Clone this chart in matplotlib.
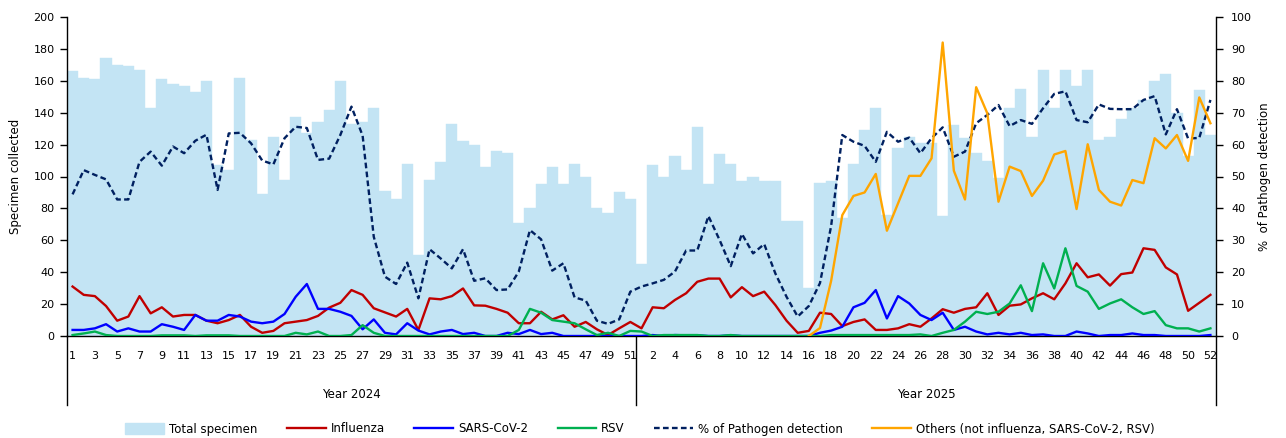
import numpy as np
import matplotlib
matplotlib.use("Agg")
import matplotlib.pyplot as plt
from matplotlib.patches import Patch
from matplotlib.lines import Line2D

plt.rcParams['font.family'] = ['DejaVu Sans']

weeks_2024 = list(range(1, 52))
weeks_2025 = list(range(1, 53))

total_2024 = [166, 162, 161, 174, 170, 169, 167, 143, 161, 158,
              157, 153, 160, 107, 104, 162, 123, 89, 125, 98,
              137, 127, 134, 142, 160, 133, 134, 143, 91, 86,
              108, 51, 98, 109, 133, 122, 120, 106, 116, 115,
              71, 80, 95, 106, 95, 108, 100, 80, 77, 90, 86]
total_2025 = [45, 107, 100, 113, 104, 131, 95, 114, 108, 97,
              100, 97, 97, 72, 72, 30, 96, 97, 74, 108,
              129, 143, 76, 118, 125, 121, 121, 75, 132, 124,
              115, 110, 99, 143, 155, 125, 167, 143, 167, 157,
              167, 123, 125, 136, 143, 148, 160, 164, 140, 113, 154, 126]

pct_2024 = [44.4, 52, 50.5, 49.1, 42.8, 42.8, 54.6, 57.8, 53.4, 59.4,
            57.3, 61.2, 63.1, 45.8, 63.5, 63.7, 60.4, 55, 53.8, 62,
            65.6, 65.2, 55.2, 55.6, 63, 71.9, 62.8, 31.1, 18.6, 16.3,
            23, 11.8, 27.2, 24.3, 21.2, 27.2, 17.3, 18.1, 14.4, 14.6,
            20.2, 33.2, 30.3, 20.5, 22.8, 12.1, 11.1, 4.8, 3.8, 5.2, 13.9]
pct_2025 = [15.5, 16.5, 17.6, 20.2, 26.8, 26.8, 37.6, 30.1, 21.9, 32,
            25.9, 28.8, 19.6, 12.3, 6.1, 9.4, 16.6, 34.5, 63, 60.9,
            59.6, 54.6, 64, 60.9, 62.2, 57.3, 62, 65.4, 56.2, 57.8,
            66.7, 69.3, 72.4, 65.8, 67.7, 66.5, 71.4, 75.9, 76.7, 67.7,
            67, 72.6, 71.2, 71.1, 71.1, 74, 75.2, 63.2, 71.1, 61.9, 62.1, 74]

flu_2024 = [15.5, 12.9, 12.5, 9.4, 4.8, 6.1, 12.5, 7.1, 9, 6.1,
            6.6, 6.6, 4.8, 4, 5, 6.6, 2.9, 1, 1.6, 4,
            4.5, 5, 6.3, 8.9, 10.4, 14.4, 12.9, 8.7, 7.4, 6.1,
            8.5, 1.9, 11.8, 11.5, 12.5, 14.9, 9.6, 9.5, 8.5, 7.3,
            4, 4, 7.6, 5.2, 6.5, 2.9, 4.4, 2.1, 0.3, 2.4, 4.4]
flu_2025 = [2.4, 9, 8.7, 11.3, 13.4, 17, 18, 18, 12.1, 15.3,
            12.5, 13.9, 9.7, 4.8, 1, 1.6, 7.3, 6.9, 3.1, 4.4,
            5.2, 1.9, 1.9, 2.4, 3.7, 2.9, 5.5, 8.4, 7.3, 8.5,
            9, 13.4, 6.6, 9.5, 9.9, 11.8, 13.4, 11.5, 16.5, 22.8,
            18.4, 19.3, 15.8, 19.4, 19.9, 27.5, 27, 21.5, 19.3, 7.9, 10.4, 12.9]

cov_2024 = [1.9, 1.9, 2.4, 3.7, 1.4, 2.4, 1.4, 1.4, 3.7, 2.9,
            1.9, 6.6, 4.8, 4.8, 6.6, 6.1, 4.5, 4, 4.5, 6.9,
            12.3, 16.3, 8.5, 8.5, 7.6, 6.3, 2.1, 5.2, 1, 0.5,
            4, 1.7, 0.5, 1.4, 1.9, 0.6, 1, 0, 0, 1,
            0.6, 1.9, 0.6, 1, 0, 0, 0, 0, 0, 0, 0]
cov_2025 = [0, 0.3, 0, 0.3, 0.2, 0.2, 0, 0, 0.2, 0,
            0, 0, 0, 0, 0, 0, 1, 1.7, 2.9, 9,
            10.4, 14.4, 5.5, 12.5, 10.2, 6.6, 5, 7.3, 1.9, 2.9,
            1.4, 0.5, 1, 0.5, 1, 0.3, 0.5, 0, 0, 1.4,
            0.8, 0, 0.3, 0.3, 0.8, 0.3, 0.3, 0, 0, 0, 0, 0.3]

rsv_2024 = [0.3, 0.8, 1.4, 0.3, 0, 0, 0, 0, 0.2, 0.2,
            0.2, 0, 0.2, 0.2, 0.2, 0, 0, 0, 0, 0,
            1, 0.5, 1.4, 0, 0, 0.3, 3.4, 1, 0, 0,
            0, 0, 0, 0, 0, 0, 0, 0, 0, 0,
            1.9, 8.5, 7.3, 5, 4.5, 4, 2.1, 0.3, 1, 0, 1.6]
rsv_2025 = [1.4, 0, 0.3, 0.3, 0.3, 0.3, 0, 0, 0.3, 0,
            0, 0, 0, 0, 0, 0, 0, 0.3, 0.3, 0.3,
            0.3, 0.3, 0.3, 0.3, 0.3, 0.5, 0, 1, 1.9, 4.5,
            7.6, 6.9, 7.6, 10.2, 15.9, 7.8, 22.8, 14.9, 27.5, 15.7,
            13.9, 8.5, 10.2, 11.5, 9, 6.9, 7.8, 3.4, 2.4, 2.4, 1.4, 2.4]

others_2024 = [None] * 51
others_2025 = [None] * 15 + [0, 2.5, 17.3, 37.9, 43.9,
               45, 50.8, 33, 41.6, 50.2, 50.2, 55.7, 92, 51.8, 42.8,
               78, 69.8, 42.1, 53.1, 51.7, 43.9, 48.7, 56.9, 58, 39.8,
               60.1, 45.8, 42.1, 40.9, 48.9, 47.9, 62, 58.8, 63, 54.9, 74.8, 66.7]

series_names = ["Total specimen", "Influenza", "SARS-CoV-2", "RSV",
                "% of Pathogen detection", "Others (not influenza, SARS-CoV-2, RSV)"]
year_labels = ["Year 2024", "Year 2025"]

# ---------------------------------------------------------------
n24, n25 = len(weeks_2024), len(weeks_2025)
x = np.arange(n24 + n25)
total = np.array(total_2024 + total_2025, dtype=float)
pct = np.array(pct_2024 + pct_2025, dtype=float)
flu = np.array(flu_2024 + flu_2025, dtype=float)
cov = np.array(cov_2024 + cov_2025, dtype=float)
rsv = np.array(rsv_2024 + rsv_2025, dtype=float)
oth = np.array(others_2024 + others_2025, dtype=float)

W, H = 1286, 438
fig = plt.figure(figsize=(W / 100, H / 100), dpi=100)
L, R, T, B = 67, 1216, 17, 336
ax = fig.add_axes([L / W, 1 - B / H, (R - L) / W, (B - T) / H])
ax2 = ax.twinx()

bar_c = '#C3E4F4'
ax.bar(x, total, width=1.0, color=bar_c, edgecolor=bar_c, linewidth=0.3, zorder=1)
ax.set_xlim(-0.5, len(x) - 0.5)
ax.set_ylim(0, 200)
ax.set_yticks(np.arange(0, 201, 20))
ax2.set_ylim(0, 100)
ax2.set_yticks(np.arange(0, 101, 10))

lw = 1.7
ax2.plot(x, flu, color='#C00000', lw=lw)
ax2.plot(x, cov, color='#0000FF', lw=lw)
ax2.plot(x, rsv, color='#00B050', lw=lw)
ax2.plot(x, pct, color='#002060', lw=lw, linestyle=(0, (2.4, 1.4)))
ax2.plot(x, oth, color='#FFA500', lw=lw)

for a in (ax, ax2):
    a.spines['top'].set_visible(False)
    for s in ('left', 'right', 'bottom'):
        a.spines[s].set_color('black')
        a.spines[s].set_linewidth(1.0)
ax.spines['right'].set_visible(False)
ax2.spines['left'].set_visible(False)
ax2.spines['bottom'].set_visible(False)

ax.tick_params(axis='y', direction='out', length=5, width=1, labelsize=8, pad=4)
ax2.tick_params(axis='y', direction='out', length=5, width=1, labelsize=8, pad=6)

tick_pos = [i for i, w in enumerate(weeks_2024) if w % 2 == 1] + \
           [n24 + i for i, w in enumerate(weeks_2025) if w % 2 == 0]
tick_lab = [str(w) for w in weeks_2024 if w % 2 == 1] + \
           [str(w) for w in weeks_2025 if w % 2 == 0]
ax.set_xticks(tick_pos)
ax.set_xticklabels(tick_lab, fontsize=8)
ax.tick_params(axis='x', length=0, pad=11)

ax.set_ylabel("Specimen collected", fontsize=8.5, labelpad=8)
ax2.set_ylabel("%  of Pathogen detection", fontsize=8.5, labelpad=4)

tr = ax.get_xaxis_transform()
depth = (405 - B) / (B - T)
for xb in (-0.5, n24 - 0.5, len(x) - 0.5):
    ax.plot([xb, xb], [0, -depth], transform=tr, color='black', lw=1.0, clip_on=False)
ylab = -(395 - B) / (B - T)
ax.text((n24 - 1) / 2, ylab, year_labels[0], transform=tr, ha='center', va='center', fontsize=8.5)
ax.text(n24 + (n25 - 1) / 2, ylab, year_labels[1], transform=tr, ha='center', va='center', fontsize=8.5)

handles = [Patch(facecolor=bar_c, edgecolor=bar_c),
           Line2D([], [], color='#C00000', lw=lw),
           Line2D([], [], color='#0000FF', lw=lw),
           Line2D([], [], color='#00B050', lw=lw),
           Line2D([], [], color='#002060', lw=lw, linestyle=(0, (2.4, 1.4))),
           Line2D([], [], color='#FFA500', lw=lw)]
fig.legend(handles, series_names, loc='center', bbox_to_anchor=(640 / W, 1 - 429 / H),
           ncol=6, frameon=False, fontsize=8.5, handlelength=3.3, handleheight=1.0,
           columnspacing=2.5, handletextpad=0.4)

fig.savefig("out.png", dpi=100)
